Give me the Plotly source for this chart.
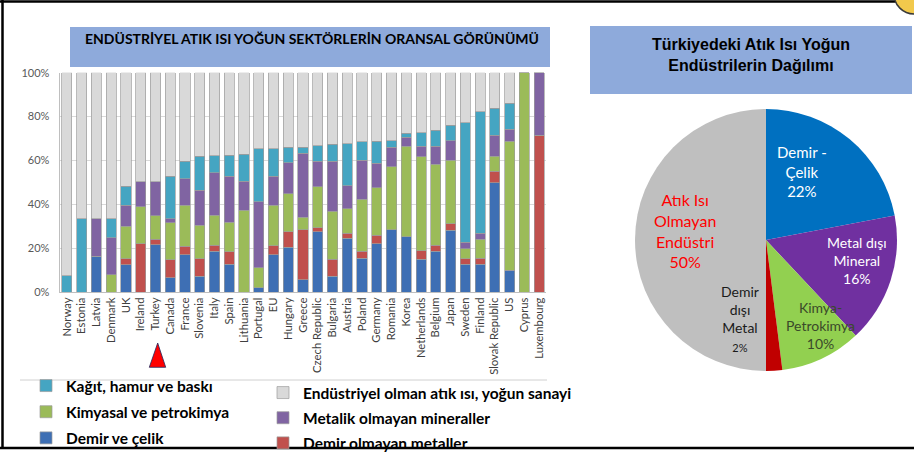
import plotly.graph_objects as go

W, H = 914, 452

countries = ["Norway", "Estonia", "Latvia", "Denmark", "UK", "Ireland", "Turkey", "Canada",
             "France", "Slovenia", "Italy", "Spain", "Lithuania", "Portugal", "EU", "Hungary",
             "Greece", "Czech Republic", "Bulgaria", "Austria", "Poland", "Germany", "Romania",
             "Korea", "Netherlands", "Belgium", "Japan", "Sweden", "Finland", "Slovak Republic",
             "US", "Cyprus", "Luxembourg"]

demir_celik = [0, 0, 16.4, 0, 12.5, 0, 21.6, 6.5, 17.0, 7.2, 18.6, 12.6, 0, 2.0, 17.0, 20.5,
               5.6, 27.4, 7.2, 24.4, 15.5, 22.1, 28.5, 25.1, 14.9, 18.6, 28.2, 12.6, 12.6, 49.9,
               9.9, 0, 0]
demir_olmayan = [0, 0, 0, 0, 2.7, 22.0, 2.4, 8.3, 3.9, 8.0, 2.7, 5.7, 0, 0, 4.0, 6.9,
                 22.9, 1.8, 7.7, 2.5, 3.1, 3.8, 0, 0, 3.8, 2.7, 3.0, 2.6, 2.9, 5.2,
                 0, 0, 71.5]
kimyasal = [0, 0, 0, 7.9, 14.8, 16.8, 10.7, 16.7, 18.7, 15.2, 13.7, 13.4, 37.3, 9.0, 18.6, 17.5,
            5.5, 18.7, 21.9, 11.1, 23.6, 21.6, 28.6, 41.4, 42.9, 37.0, 28.9, 4.6, 8.5, 6.8,
            58.9, 100, 0]
metalik_olmayan = [0, 0, 17.1, 16.9, 9.6, 11.4, 15.5, 2.0, 12.1, 16.0, 19.3, 21.1, 13.2, 30.1, 13.2, 14.0,
                   29.2, 11.8, 22.9, 10.4, 17.9, 11.1, 8.8, 4.0, 4.9, 8.2, 8.8, 3.0, 2.9, 9.6,
                   5.5, 0, 28.5]
kagit = [7.3, 33.5, 0, 8.7, 8.6, 0, 0, 19.3, 8.0, 15.5, 7.8, 9.6, 12.4, 24.3, 12.6, 7.0,
         2.7, 7.0, 7.6, 19.3, 8.4, 10.2, 3.1, 1.8, 6.1, 7.3, 7.2, 54.4, 55.3, 12.2,
         11.7, 0, 0]
diger = [92.7, 66.5, 66.5, 66.5, 51.8, 49.8, 49.8, 47.2, 40.3, 38.1, 37.9, 37.6, 37.1, 34.6, 34.6, 34.1,
         34.1, 33.3, 32.7, 32.3, 31.5, 31.2, 31.0, 27.7, 27.4, 26.2, 23.9, 22.8, 17.8, 16.3,
         14.0, 0, 0]

y_ticks = [0, 20, 40, 60, 80, 100]
y_tick_labels = ["0%", "20%", "40%", "60%", "80%", "100%"]

pie_labels = ["Demir - Çelik", "Metal dışı Mineral", "Kimya-Petrokimya", "Demir dışı Metal",
              "Atık Isı Olmayan Endüstri"]
pie_values = [22, 16, 10, 2, 50]


def px(x):
    return x / W


def py(y):
    return 1 - y / H


FONT = "Lato"
outline = dict(color="#9c9c9c", width=0.7)

series = [
    ("Demir ve çelik", demir_celik, "#3e6fb4", "legend", 3),
    ("Demir olmayan metaller", demir_olmayan, "#c0504d", "legend2", 6),
    ("Kimyasal ve petrokimya", kimyasal, "#9bbb59", "legend", 2),
    ("Metalik olmayan mineraller", metalik_olmayan, "#8064a2", "legend2", 5),
    ("Kağıt, hamur ve baskı", kagit, "#45a5c2", "legend", 1),
    ("Endüstriyel olman atık ısı, yoğun sanayi", diger, "#d9d9d9", "legend2", 4),
]

fig = go.Figure()
for name, vals, col, leg, rank in series:
    fig.add_trace(go.Bar(
        x=countries, y=vals, name=name, legend=leg, legendrank=rank,
        legendgroup=name, marker=dict(color=col, line=outline),
        hovertemplate="%{x}: %{y}%<extra>" + name + "</extra>",
    ))

fig.add_trace(go.Pie(
    labels=pie_labels, values=pie_values, sort=False, direction="clockwise", rotation=0,
    marker=dict(colors=["#0070c0", "#7030a0", "#92d050", "#c00000", "#bfbfbf"],
                line=dict(width=0)),
    textinfo="none", showlegend=False,
    domain=dict(x=[px(635), px(897)], y=[py(371), py(109)]),
))

legend_font = dict(family=FONT, size=15.5, color="black", weight="bold")

fig.update_layout(
    width=W, height=H,
    margin=dict(l=0, r=0, t=0, b=0, autoexpand=False),
    paper_bgcolor="white", plot_bgcolor="white",
    barmode="stack", bargap=0.32,
    font=dict(family=FONT),
    xaxis=dict(domain=[px(59.6), px(546.4)], tickangle=-90, ticks="", automargin=False,
               tickfont=dict(family=FONT, size=11.3, color="#404040"),
               showline=True, linecolor="#bfbfbf", linewidth=1, fixedrange=True),
    yaxis=dict(domain=[py(292), py(72.7)], range=[0, 100], tickmode="array", automargin=False,
               tickvals=y_ticks, ticktext=y_tick_labels, ticklabelstandoff=7,
               tickfont=dict(family=FONT, size=11, color="#595959"),
               gridcolor="#d9d9d9", showline=True, linecolor="#bfbfbf", linewidth=1,
               zeroline=False, fixedrange=True),
    legend=dict(xref="container", yref="container", x=px(26), y=py(369),
                xanchor="left", yanchor="top", font=legend_font,
                traceorder="grouped", tracegroupgap=3, bgcolor="rgba(0,0,0,0)"),
    legend2=dict(xref="container", yref="container", x=px(263), y=py(376),
                 xanchor="left", yanchor="top", font=legend_font,
                 traceorder="grouped", tracegroupgap=2, bgcolor="rgba(0,0,0,0)"),
)

shapes = [
    # title boxes
    dict(type="rect", xref="paper", yref="paper", x0=px(70), x1=px(550), y0=py(67), y1=py(27),
         fillcolor="#8eaadb", line=dict(width=0), layer="below"),
    dict(type="rect", xref="paper", yref="paper", x0=px(590), x1=px(912), y0=py(94), y1=py(26),
         fillcolor="#8eaadb", line=dict(width=0), layer="below"),
    # frame
    dict(type="line", xref="paper", yref="paper", x0=0, x1=px(898), y0=py(1.5), y1=py(1.5),
         line=dict(color="black", width=2.5)),
    dict(type="line", xref="paper", yref="paper", x0=px(2.5), x1=px(2.5), y0=py(0), y1=py(449),
         line=dict(color="black", width=2.5)),
    dict(type="line", xref="paper", yref="paper", x0=0, x1=1, y0=py(448), y1=py(448),
         line=dict(color="black", width=2.5)),
    # separator above legend
    dict(type="line", xref="paper", yref="paper", x0=px(20), x1=px(547), y0=py(380), y1=py(380),
         line=dict(color="#d0d0d0", width=1)),
    # red marker triangle under Turkey
    dict(type="path", xref="paper", yref="paper",
         path=f"M {px(157.7)},{py(343)} L {px(165.7)},{py(367.3)} L {px(149.3)},{py(367.3)} Z",
         fillcolor="#ff0000", line=dict(color="#1f2a60", width=0.8)),
    # corner logo fragment
    dict(type="circle", xref="paper", yref="paper", x0=px(894), x1=px(934), y0=py(14), y1=py(-26),
         fillcolor="#f2c94c", line=dict(color="#3a3a3a", width=1.5)),
]
fig.update_layout(shapes=shapes)

ann = [
    dict(x=px(312), y=py(38), text="ENDÜSTRİYEL ATIK ISI YOĞUN SEKTÖRLERİN ORANSAL GÖRÜNÜMÜ",
         font=dict(family=FONT, size=14, color="black", weight="bold")),
    dict(x=px(751), y=py(55), text="Türkiyedeki Atık Isı Yoğun<br>Endüstrilerin Dağılımı",
         font=dict(family="Liberation Sans", size=16, color="black", weight="bold")),
    dict(x=px(802), y=py(171), text="Demir -<br>Çelik<br>22%",
         font=dict(family=FONT, size=15, color="white")),
    dict(x=px(857), y=py(260), text="Metal dışı<br>Mineral<br>16%",
         font=dict(family=FONT, size=14, color="white")),
    dict(x=px(820), y=py(325), text="Kimya-<br>Petrokimya<br>10%",
         font=dict(family=FONT, size=14, color="#3a4a2a")),
    dict(x=px(740), y=py(318), text="Demir<br>dışı<br>Metal<br><span style='font-size:11px'>2%</span>",
         font=dict(family=FONT, size=14, color="#1a1a1a")),
    dict(x=px(685), y=py(230), text="Atık Isı<br>Olmayan<br>Endüstri<br>50%",
         font=dict(family=FONT, size=16, color="#ff0000")),
]
for a in ann:
    a.update(xref="paper", yref="paper", showarrow=False, xanchor="center", yanchor="middle")
fig.update_layout(annotations=ann)

fig.write_html("out.html", config={"displayModeBar": False},
               post_script="document.body.style.margin='0px';"
                           "document.body.style.overflow='hidden';"
                           "document.documentElement.style.overflow='hidden';")
